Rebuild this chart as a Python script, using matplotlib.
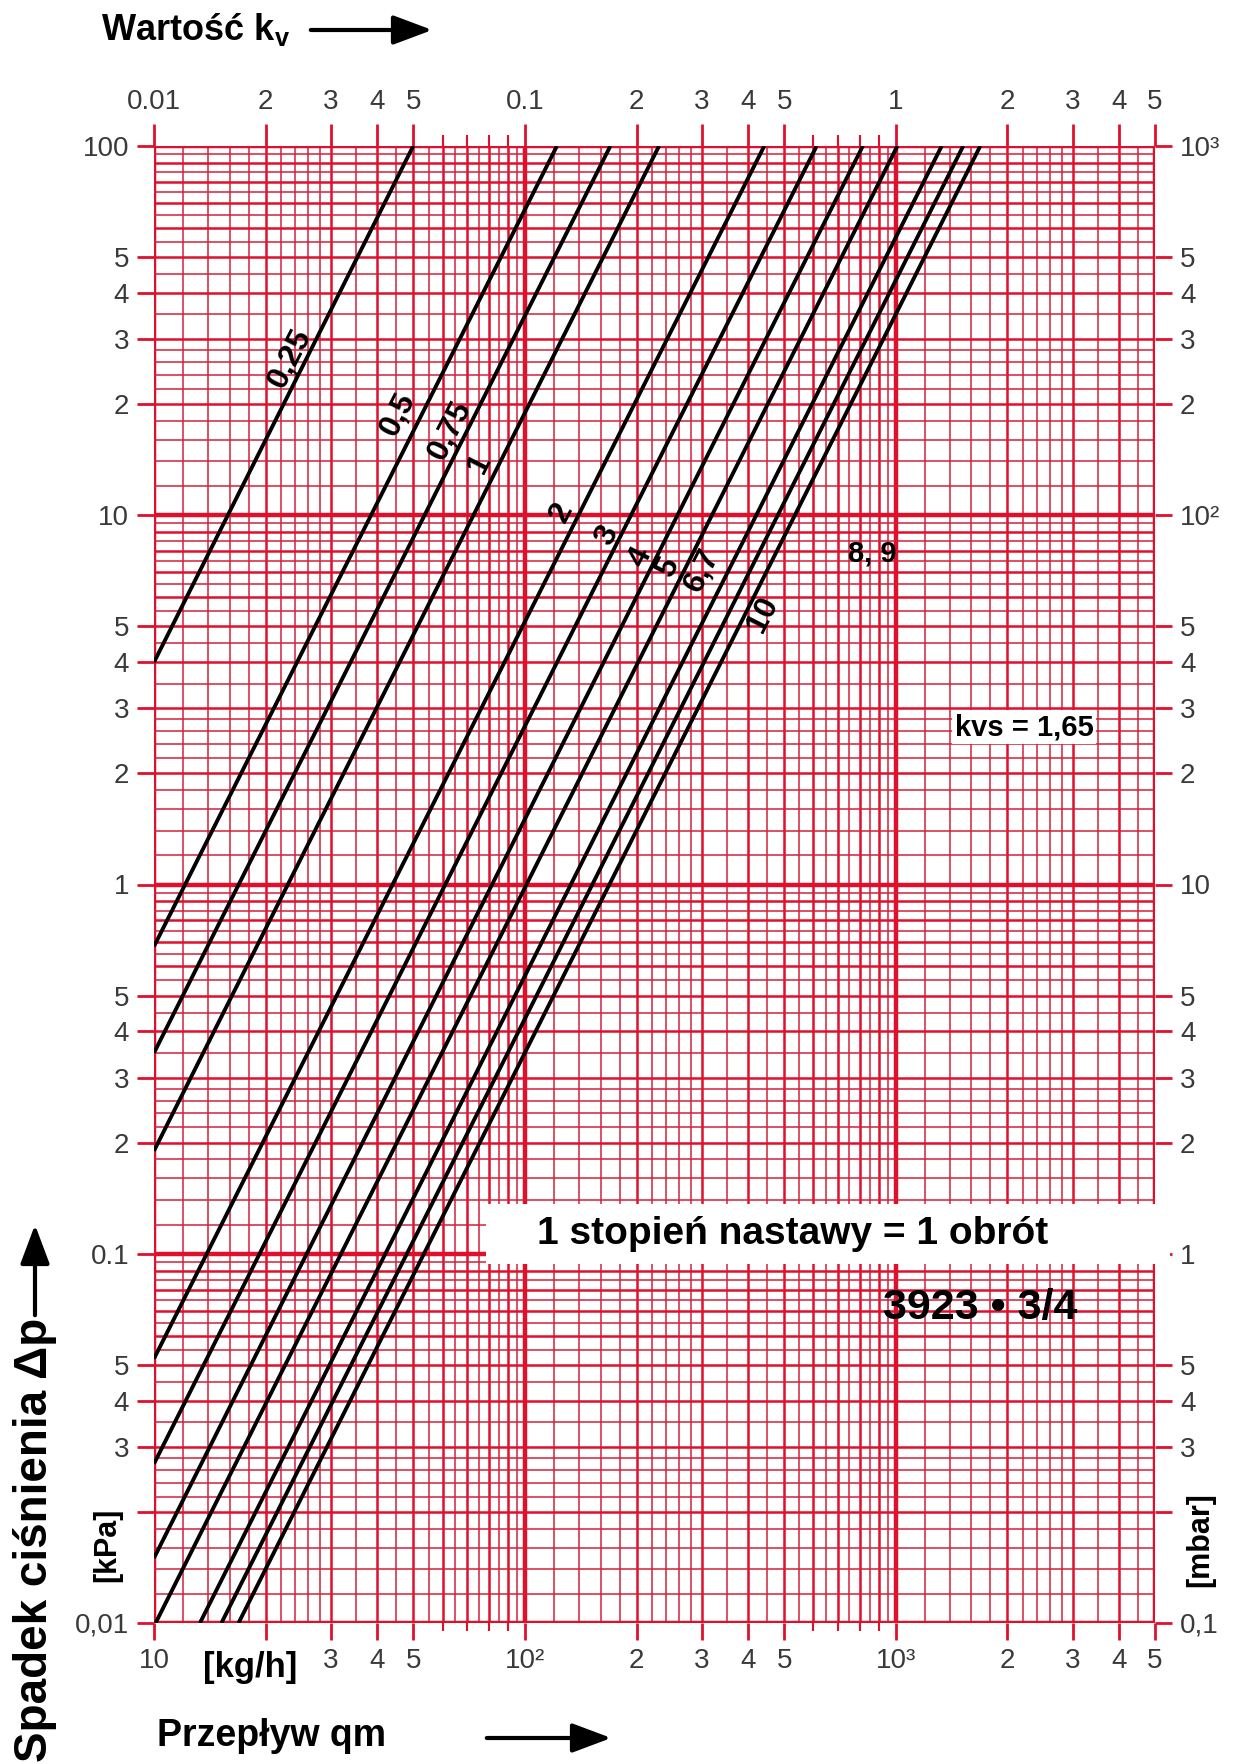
import numpy as np
import matplotlib
matplotlib.use('Agg')
from matplotlib import pyplot as plt
from matplotlib.patches import Rectangle, FancyArrowPatch


W, H = 1235, 1764

# valve settings and the two end points of each line
settings = ['0,25', '0,5', '0,75', '1', '2', '3', '4', '5', '6,7', '10', '8, 9']
q_start = [10, 10, 10, 10, 10, 10, 10, 10.1, 13.3, 15.2, 16.9]          # kg/h
dp_start = [4.0, 0.68, 0.35, 0.19, 0.052, 0.027, 0.015, 0.01, 0.01, 0.01, 0.01]  # kPa
q_end = [50, 122, 170, 230, 442, 612, 815, 1010, 1330, 1520, 1690]      # kg/h
dp_end = [100, 100, 100, 100, 100, 100, 100, 100, 100, 100, 100]        # kPa

# tick values and labels of the four scales
q_ticks = [10, 20, 30, 40, 50, 100, 200, 300, 400, 500, 1000, 2000, 3000, 4000, 5000]
q_labels = ['10', '', '3', '4', '5', '10²', '2', '3', '4', '5', '10³', '2', '3', '4', '5']
kv_ticks = [0.01, 0.02, 0.03, 0.04, 0.05, 0.1, 0.2, 0.3, 0.4, 0.5, 1, 2, 3, 4, 5]
kv_labels = ['0.01', '2', '3', '4', '5', '0.1', '2', '3', '4', '5', '1', '2', '3', '4', '5']
dp_ticks = [0.01, 0.02, 0.03, 0.04, 0.05, 0.1, 0.2, 0.3, 0.4, 0.5, 1, 2, 3, 4, 5,
            10, 20, 30, 40, 50, 100]
dp_labels = ['0,01', '', '3', '4', '5', '0.1', '2', '3', '4', '5', '1', '2', '3', '4', '5',
             '10', '2', '3', '4', '5', '100']
mbar_ticks = [0.1, 0.2, 0.3, 0.4, 0.5, 1, 2, 3, 4, 5, 10, 20, 30, 40, 50,
              100, 200, 300, 400, 500, 1000]
mbar_labels = ['0,1', '', '3', '4', '5', '1', '2', '3', '4', '5', '10', '2', '3', '4', '5',
               '10²', '2', '3', '4', '5', '10³']

RED = '#e0102c'
RED_THIN = '#d2203a'
NARROW = ['Liberation Sans Narrow', 'Liberation Sans', 'DejaVu Sans']


def fx(px):
    return px / W


def fy(py):
    return 1 - py / H


fig = plt.figure(figsize=(W / 100, H / 100), dpi=100)
ax = fig.add_axes([fx(154), fy(1623), (1155 - 154) / W, (1623 - 146) / H])
ax.set_xscale('log')
ax.set_yscale('log')
ax.set_xlim(10, 5000)
ax.set_ylim(0.01, 100)

# red log paper
fine = [1.2, 1.4, 1.6, 1.8, 2.2, 2.4, 2.6, 2.8, 3.5, 4.5, 5.5, 6.5, 7.5, 8.5, 9.5]
whole = [2, 3, 4, 5, 6, 7, 8, 9]
for dec in [10, 100, 1000]:
    for m in fine:
        if dec * m <= 5000:
            ax.axvline(dec * m, color=RED_THIN, lw=1.1, zorder=1)
    for m in whole:
        if dec * m <= 5000:
            ax.axvline(dec * m, color=RED, lw=1.8, zorder=1)
    ax.axvline(dec, color=RED, lw=3.2, zorder=1)
for dec in [0.01, 0.1, 1, 10]:
    for m in fine:
        ax.axhline(dec * m, color=RED_THIN, lw=1.1, zorder=1)
    for m in whole:
        ax.axhline(dec * m, color=RED, lw=1.8, zorder=1)
    ax.axhline(dec, color=RED, lw=3.2, zorder=1)
ax.axhline(100, color=RED, lw=3.2, zorder=1)
ax.axvline(5000, color=RED, lw=3.2, zorder=1)
for s in ax.spines.values():
    s.set_visible(False)

# characteristic lines
for i in range(len(settings)):
    ax.plot([q_start[i], q_end[i]], [dp_start[i], dp_end[i]], color='black',
            lw=2.8, solid_capstyle='butt', zorder=3)

ax.set_xticks(q_ticks, labels=q_labels)
ax.set_xticks([60, 70, 80, 90, 600, 700, 800, 900], minor=True)
ax.set_yticks(dp_ticks, labels=dp_labels)
ax.set_yticks([], minor=True)
ax.tick_params(axis='both', which='major', color=RED, width=2, length=12, pad=6)
ax.tick_params(axis='both', which='minor', color=RED, width=1.5, length=6)
for lab in ax.get_xticklabels() + ax.get_yticklabels():
    lab.set_fontfamily(NARROW)
    lab.set_fontsize(20)
    lab.set_color('#3a3a3a')

top = ax.secondary_xaxis('top', functions=(lambda q: q / 1000.0, lambda k: k * 1000.0))
top.set_xticks(kv_ticks, labels=kv_labels)
top.set_xticks([0.06, 0.07, 0.08, 0.09, 0.6, 0.7, 0.8, 0.9], minor=True)
top.tick_params(which='major', color=RED, width=2, length=16, pad=6)
top.tick_params(which='minor', color=RED, width=1.5, length=8)
top.spines['top'].set_visible(False)
for lab in top.get_xticklabels():
    lab.set_fontfamily(NARROW)
    lab.set_fontsize(20)
    lab.set_color('#3a3a3a')

right = ax.secondary_yaxis('right', functions=(lambda p: p * 10.0, lambda m: m / 10.0))
right.set_yticks(mbar_ticks, labels=mbar_labels)
right.set_yticks([], minor=True)
right.tick_params(which='major', color=RED, width=2, length=12, pad=6)
right.spines['right'].set_visible(False)
for lab in right.get_yticklabels():
    lab.set_fontfamily(NARROW)
    lab.set_fontsize(20)
    lab.set_color('#3a3a3a')

# labels on the lines
rot = 63
line_labels = [('0,25', 290, 358), ('0,5', 398, 414), ('0,75', 450, 430), ('1', 480, 463),
               ('2', 562, 512), ('3', 607, 535), ('4', 640, 557), ('5', 668, 567),
               ('6,7', 702, 570), ('10', 763, 614)]
for txt, px, py in line_labels:
    fig.text(fx(px), fy(py), txt, rotation=rot, ha='center', va='center',
             fontsize=23, fontweight='bold', family=NARROW, zorder=5)
fig.text(fx(872), fy(553), '8, 9', ha='center', va='center', fontsize=21,
         fontweight='bold', family=NARROW)
fig.text(fx(1024), fy(727), 'kvs = 1,65', ha='center', va='center', fontsize=21,
         fontweight='bold', family=NARROW,
         bbox=dict(facecolor='white', edgecolor='none', pad=2))

# box with note
fig.patches.append(Rectangle((fx(486), fy(1264)), (1170 - 486) / W, 60 / H,
                             transform=fig.transFigure, facecolor='white',
                             edgecolor='none', zorder=4))
fig.text(fx(793), fy(1234), '1 stopień nastawy = 1 obrót', ha='center', va='center',
         fontsize=28, fontweight='bold', family=NARROW, zorder=5)
fig.text(fx(980), fy(1308), '3923 • 3/4', ha='center', va='center', fontsize=31,
         fontweight='bold', family=NARROW, zorder=5)

# axis titles
fig.text(fx(101), fy(30), 'Wartość k$_\\mathregular{v}$', ha='left', va='center',
         fontsize=26, fontweight='bold', family=NARROW)
fig.text(fx(157), fy(1736), 'Przepływ qm', ha='left', va='center', fontsize=27,
         fontweight='bold', family=NARROW)
fig.text(fx(250), fy(1668), '[kg/h]', ha='center', va='center', fontsize=25,
         fontweight='bold', family=NARROW)
fig.text(fx(35), fy(1762), 'Spadek ciśnienia Δp', rotation=90, ha='center', va='bottom',
         fontsize=33, fontweight='bold', family=NARROW)
fig.text(fx(107), fy(1545), '[kPa]', rotation=90, ha='center', va='center', fontsize=22,
         fontweight='bold', family=NARROW)
fig.text(fx(1200), fy(1540), '[mbar]', rotation=90, ha='center', va='center',
         fontsize=22, fontweight='bold', family=NARROW)

arrow_kw = dict(arrowstyle='-|>,head_length=1.2,head_width=0.45', color='black', lw=3,
                mutation_scale=20, transform=fig.transFigure)
fig.add_artist(FancyArrowPatch((fx(308), fy(30)), (fx(435), fy(30)), **arrow_kw))
fig.add_artist(FancyArrowPatch((fx(484), fy(1738)), (fx(614), fy(1738)), **arrow_kw))
fig.add_artist(FancyArrowPatch((fx(35), fy(1318)), (fx(35), fy(1222)), **arrow_kw))

fig.savefig('out.png', dpi=100, facecolor='white')
